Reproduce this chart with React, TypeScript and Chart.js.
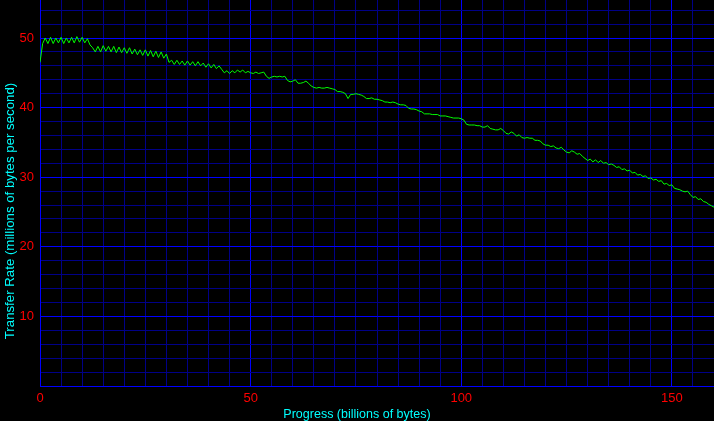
import React, { useEffect, useRef } from "react";
import { Chart, registerables } from "chart.js";

Chart.register(...registerables);

// Progress sampled every 0.625 billion bytes, from 0 to 160
const PROGRESS_STEP = 0.625;
const transferRate: number[] = [
  46.5, 49.2, 50.0, 49.2, 50.1, 49.2, 50.0, 49.3, 50.1, 49.2,
  50.0, 49.3, 50.1, 49.3, 50.2, 49.4, 50.1, 49.3, 49.9, 49.0,
  48.6, 48.0, 48.8, 48.0, 48.9, 48.1, 48.8, 48.0, 48.8, 47.9,
  48.7, 47.9, 48.6, 47.8, 48.6, 47.7, 48.4, 47.6, 48.3, 47.5,
  48.3, 47.4, 48.2, 47.3, 48.1, 47.2, 48.0, 47.1, 47.7, 46.5,
  46.8, 46.2, 46.8, 46.2, 46.7, 46.1, 46.7, 46.1, 46.6, 46.0,
  46.6, 46.0, 46.4, 45.8, 46.3, 45.7, 46.2, 45.6, 46.0, 45.5,
  45.0, 45.3, 44.9, 45.3, 45.0, 45.4, 45.1, 45.4, 45.0, 45.2,
  45.0, 44.9, 45.1, 44.9, 45.0, 45.1, 44.5, 44.2, 44.4, 44.5,
  44.4, 44.5, 44.4, 44.5, 43.9, 43.7, 43.8, 44.0, 43.5, 43.5,
  43.6, 43.8, 43.5, 43.1, 42.9, 42.8, 42.9, 42.8, 42.8, 42.9,
  42.8, 42.7, 42.6, 42.3, 42.3, 42.2, 42.0, 41.3, 41.9, 41.9,
  42.0, 41.9, 41.8, 41.6, 41.3, 41.3, 41.4, 41.2, 41.2, 41.1,
  41.0, 40.8, 40.8, 40.7, 40.8, 40.7, 40.5, 40.4, 40.4, 40.3,
  39.9, 39.8, 39.8, 39.7, 39.5, 39.4, 39.1, 39.1, 39.1, 39.0,
  39.0, 39.0, 38.8, 38.8, 38.8, 38.7, 38.6, 38.5, 38.5, 38.5,
  38.4, 38.2, 37.6, 37.5, 37.5, 37.5, 37.4, 37.4, 37.2, 37.2,
  37.4, 37.0, 36.9, 36.8, 36.8, 37.0, 36.7, 36.3, 36.2, 36.5,
  36.3, 35.9, 36.1, 35.7, 35.6, 35.7, 35.6, 35.6, 35.3, 35.3,
  35.2, 34.8, 34.6, 34.6, 34.4, 34.5, 34.2, 34.1, 34.3, 33.9,
  33.6, 33.5, 33.8, 33.6, 33.3, 33.4, 33.0, 32.7, 32.4, 32.6,
  32.2, 32.5, 32.1, 32.4, 32.0, 32.1, 31.8, 31.9, 31.7, 31.4,
  31.5, 31.1, 31.2, 30.9, 31.0, 30.6, 30.7, 30.3, 30.4, 30.1,
  30.2, 29.8, 29.9, 29.6, 29.7, 29.4, 29.5, 29.0, 29.1, 28.8,
  28.9, 28.4, 28.3, 28.2, 28.0, 27.9, 28.0, 27.5, 27.1, 27.2,
  26.8, 26.9, 26.5, 26.4, 26.1, 25.9, 25.7,
];

const xTickLabels = [0, 50, 100, 150];
const yTickLabels = [10, 20, 30, 40, 50];
const xTitle = "Progress (billions of bytes)";
const yTitle = "Transfer Rate (millions of bytes per second)";

const FONT = '"Liberation Sans", Arial, sans-serif';

export default function App() {
  const ref = useRef<HTMLCanvasElement | null>(null);

  useEffect(() => {
    document.body.style.margin = "0";
    document.body.style.background = "#000";
    const canvas = ref.current!;
    const points = transferRate.map((v, i) => ({ x: i * PROGRESS_STEP, y: v }));

    const titlePlugin = {
      id: "axisTitles",
      afterDraw(chart: any) {
        const ctx = chart.ctx as CanvasRenderingContext2D;
        ctx.save();
        ctx.fillStyle = "#00ffff";
        ctx.textAlign = "center";
        ctx.textBaseline = "alphabetic";
        ctx.font = `12.5px ${FONT}`;
        ctx.fillText(xTitle, 357, 418);
        ctx.font = `13.25px ${FONT}`;
        ctx.translate(14, 211);
        ctx.rotate(-Math.PI / 2);
        ctx.fillText(yTitle, 0, 0);
        ctx.restore();
      },
    };

    const chart = new Chart(canvas, {
      type: "line",
      data: {
        datasets: [
          {
            data: points,
            borderColor: "#00ff00",
            borderWidth: 1,
            pointRadius: 0,
            tension: 0,
            fill: false,
          },
        ],
      },
      options: {
        animation: false,
        responsive: false,
        events: [],
        layout: { padding: 0 },
        plugins: { legend: { display: false }, tooltip: { enabled: false } },
        scales: {
          x: {
            type: "linear",
            min: 0,
            max: 160,
            afterFit(scale: any) {
              scale.height = 35;
              scale.paddingLeft = 0;
              scale.paddingRight = 0;
            },
            border: { display: true, color: "#0000ff", width: 1 },
            grid: {
              drawTicks: false,
              color: (c: any) => {
                const v = c.tick ? c.tick.value : -1;
                if (v === 160) return "rgba(0,0,0,0)";
                return xTickLabels.includes(v) ? "#0000ff" : "#000088";
              },
              lineWidth: 1,
            },
            ticks: {
              stepSize: 5,
              autoSkip: false,
              maxRotation: 0,
              padding: 5,
              color: "#ff0000",
              font: { family: FONT, size: 13 },
              callback: (v: any) => (xTickLabels.includes(Number(v)) ? String(v) : ""),
            },
          },
          y: {
            type: "linear",
            min: 0,
            max: 55.46,
            afterFit(scale: any) {
              scale.width = 40;
              scale.paddingTop = 0;
              scale.paddingBottom = 0;
            },
            border: { display: true, color: "#0000ff", width: 1 },
            grid: {
              drawTicks: false,
              color: (c: any) =>
                c.tick && c.tick.value % 10 === 0 ? "#0000ff" : "#000088",
              lineWidth: 1,
            },
            ticks: {
              stepSize: 2,
              includeBounds: false,
              autoSkip: false,
              padding: 6,
              color: "#ff0000",
              font: { family: FONT, size: 13 },
              callback: (v: any) => (yTickLabels.includes(Number(v)) ? String(v) : ""),
            },
          },
        },
      },
      plugins: [titlePlugin],
    });
    return () => chart.destroy();
  }, []);

  return (
    <div style={{ width: 714, height: 421, background: "#000" }}>
      <canvas ref={ref} width={714} height={421} style={{ display: "block" }} />
    </div>
  );
}
